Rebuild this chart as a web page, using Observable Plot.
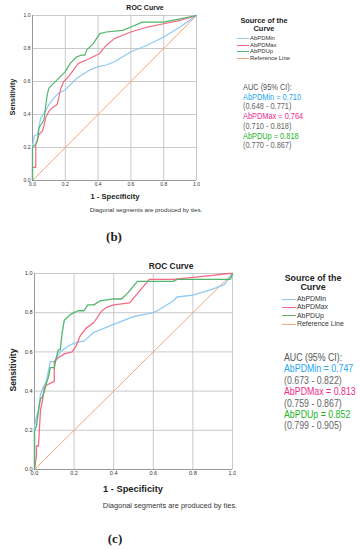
<!DOCTYPE html>
<html>
<head>
<meta charset="utf-8">
<script src="https://cdn.jsdelivr.net/npm/d3@7"></script>
<script src="https://cdn.jsdelivr.net/npm/@observablehq/plot@0.6"></script>
<style>
  html, body { margin: 0; padding: 0; background: #fff; }
  #root { position: relative; width: 360px; height: 550px; overflow: hidden; font-family: "Liberation Sans", Arial, sans-serif; color: #222; }
  .abs { position: absolute; white-space: nowrap; }
  .plot { position: absolute; }
  .bold { font-weight: bold; }
  .center { transform: translateX(-50%); text-align: center; }
  .rot { transform: translate(-50%, -50%) rotate(-90deg); }
  .leg { position: absolute; }
  .leg .row { display: flex; align-items: center; }
  .leg .sw { display: inline-block; height: 0; border-top: 1px solid; margin-right: 1px; }
  .auc { position: absolute; transform-origin: 0 0; }
  .auc div { white-space: nowrap; }
</style>
</head>
<body>
<div id="root"></div>
<script>
// ---------- data ----------
const seriesNames = ["AbPDMin", "AbPDMax", "AbPDUp", "Reference Line"];
const seriesColors = ["#8ec9f3", "#f46a86", "#52b56c", "#f7a47c"];
const tickValues = [0, 0.2, 0.4, 0.6, 0.8, 1.0];
const refFpr = [0, 1];
const refTpr = [0, 1];

// panel (b)
const bMinFpr = [0,0,0.01,0.03,0.04,0.05,0.08,0.1,0.13,0.16,0.2,0.22,0.25,0.27,0.3,0.35,0.4,0.45,0.5,0.55,0.6,0.7,0.8,0.9,1];
const bMinTpr = [0,0.2,0.27,0.28,0.33,0.38,0.42,0.46,0.5,0.53,0.55,0.57,0.6,0.62,0.64,0.67,0.69,0.7,0.72,0.75,0.78,0.82,0.87,0.93,1];
const bMaxFpr = [0,0,0.02,0.02,0.03,0.04,0.06,0.07,0.08,0.1,0.12,0.15,0.16,0.17,0.19,0.22,0.25,0.28,0.33,0.37,0.41,0.45,0.5,0.55,0.6,0.7,0.8,0.9,1];
const bMaxTpr = [0,0.08,0.08,0.22,0.25,0.28,0.3,0.33,0.38,0.42,0.44,0.46,0.5,0.55,0.6,0.63,0.67,0.71,0.73,0.75,0.77,0.82,0.86,0.88,0.9,0.93,0.95,0.97,1];
const bUpFpr = [0,0,0.02,0.03,0.04,0.06,0.07,0.08,0.09,0.1,0.12,0.16,0.2,0.23,0.27,0.3,0.32,0.33,0.37,0.41,0.45,0.55,0.6,0.67,0.8,0.9,1];
const bUpTpr = [0,0.2,0.22,0.24,0.32,0.35,0.37,0.45,0.52,0.56,0.58,0.62,0.66,0.71,0.75,0.76,0.76,0.79,0.83,0.89,0.9,0.91,0.93,0.96,0.96,0.98,1];
const bAuc = ["AbPDMin = 0.710", "(0.648 - 0.771)", "AbPDMax = 0.764", "(0.710 - 0.818)", "AbPDUp = 0.818", "(0.770 - 0.867)"];

// panel (c)
const cMinFpr = [0,0,0.01,0.02,0.03,0.04,0.06,0.07,0.08,0.1,0.13,0.17,0.2,0.22,0.25,0.3,0.4,0.5,0.6,0.62,0.7,0.72,0.8,0.9,0.96,1];
const cMinTpr = [0,0.22,0.27,0.3,0.38,0.41,0.45,0.5,0.55,0.55,0.6,0.63,0.645,0.65,0.655,0.7,0.74,0.78,0.8,0.81,0.86,0.88,0.89,0.92,0.945,1];
const cMaxFpr = [0,0.01,0.01,0.02,0.03,0.04,0.05,0.06,0.1,0.1,0.12,0.15,0.19,0.21,0.23,0.26,0.3,0.34,0.37,0.4,0.48,0.58,0.7,0.9,0.98,1];
const cMaxTpr = [0,0.07,0.12,0.12,0.3,0.35,0.42,0.43,0.45,0.55,0.57,0.59,0.6,0.63,0.68,0.72,0.75,0.81,0.83,0.84,0.85,0.97,0.97,0.99,1,1];
const cUpFpr = [0,0,0.01,0.02,0.03,0.04,0.05,0.06,0.07,0.08,0.1,0.11,0.12,0.13,0.14,0.15,0.17,0.18,0.2,0.22,0.25,0.27,0.3,0.33,0.4,0.44,0.47,0.52,0.7,0.72,0.99,1];
const cUpTpr = [0,0.2,0.22,0.3,0.36,0.37,0.4,0.44,0.47,0.52,0.52,0.57,0.61,0.61,0.7,0.76,0.78,0.79,0.8,0.81,0.81,0.84,0.84,0.86,0.87,0.87,0.9,0.96,0.96,0.97,0.97,1];
const cAuc = ["AbPDMin = 0.747", "(0.673 - 0.822)", "AbPDMax = 0.813", "(0.759 - 0.867)", "AbPDUp = 0.852", "(0.799 - 0.905)"];

const aucColors = ["#22a6f2", "#666", "#ee2a8c", "#666", "#22b41e", "#666"];

// ---------- helpers ----------
function rows(name, xs, ys) { return xs.map((x, i) => ({series: name, fpr: x, tpr: ys[i]})); }

function makePlot(cfg) {
  const data = [
    ...rows("AbPDMin", cfg.min[0], cfg.min[1]),
    ...rows("AbPDMax", cfg.max[0], cfg.max[1]),
    ...rows("AbPDUp", cfg.up[0], cfg.up[1])
  ];
  const ref = rows("Reference Line", refFpr, refTpr);
  const fmt = d3.format(".1f");
  return Plot.plot({
    width: cfg.width, height: cfg.height,
    marginLeft: cfg.ml, marginRight: cfg.mr, marginTop: cfg.mt, marginBottom: cfg.mb,
    style: {fontFamily: "Liberation Sans, Arial, sans-serif", fontSize: cfg.tickFont + "px", color: "#333", background: "#fff"},
    x: {domain: [0, 1], ticks: tickValues, tickFormat: fmt, tickSize: 0, tickPadding: 2, label: null},
    y: {domain: [0, 1], ticks: tickValues, tickFormat: fmt, tickSize: 0, tickPadding: 2, label: null},
    color: {domain: seriesNames, range: seriesColors},
    marks: [
      Plot.gridX(tickValues, {stroke: "#c9c9c9", strokeOpacity: 1, strokeWidth: 1}),
      Plot.gridY(tickValues, {stroke: "#c9c9c9", strokeOpacity: 1, strokeWidth: 1}),
      Plot.ruleX([0], {stroke: "#9a9a9a"}),
      Plot.ruleY([0], {stroke: "#9a9a9a"}),
      Plot.line(ref, {x: "fpr", y: "tpr", stroke: "series", strokeWidth: 1}),
      Plot.line(data, {x: "fpr", y: "tpr", stroke: "series", z: "series", strokeWidth: cfg.lw, curve: "linear"})
    ]
  });
}

function addText(root, txt, style, cls) {
  const d = document.createElement("div");
  d.className = "abs " + (cls || "");
  d.textContent = txt;
  Object.assign(d.style, style);
  root.appendChild(d);
  return d;
}

function addLegend(root, cfg) {
  const t = document.createElement("div");
  t.className = "abs bold center";
  Object.assign(t.style, {left: cfg.titleX + "px", top: cfg.titleY + "px", fontSize: cfg.titleFont + "px", lineHeight: cfg.titleLH + "px", color: "#222"});
  t.innerHTML = "Source of the<br>Curve";
  root.appendChild(t);
  const leg = document.createElement("div");
  leg.className = "leg";
  Object.assign(leg.style, {left: cfg.x + "px", top: cfg.y + "px", fontSize: cfg.font + "px", lineHeight: cfg.lh + "px", color: "#333"});
  seriesNames.forEach((s, i) => {
    const r = document.createElement("div");
    r.className = "row";
    r.style.height = cfg.lh + "px";
    const sw = document.createElement("span");
    sw.className = "sw";
    sw.style.width = cfg.sw + "px";
    sw.style.borderTopColor = seriesColors[i];
    const tx = document.createElement("span");
    tx.textContent = s;
    r.appendChild(sw); r.appendChild(tx);
    leg.appendChild(r);
  });
  root.appendChild(leg);
}

function addAuc(root, cfg, lines) {
  const a = document.createElement("div");
  a.className = "auc";
  Object.assign(a.style, {left: cfg.x + "px", top: cfg.y + "px", fontSize: cfg.font + "px", lineHeight: cfg.lh + "px", transform: "scaleX(" + cfg.sx + ")"});
  const h = document.createElement("div");
  h.textContent = "AUC (95% CI):";
  h.style.color = "#555";
  a.appendChild(h);
  lines.forEach((l, i) => {
    const d = document.createElement("div");
    d.textContent = l;
    d.style.color = aucColors[i];
    a.appendChild(d);
  });
  root.appendChild(a);
}

// ---------- build ----------
const root = document.getElementById("root");

// panel (b)
const pb = makePlot({width: 200, height: 200, ml: 32, mr: 4, mt: 15, mb: 20, tickFont: 5, lw: 1.2,
  min: [bMinFpr, bMinTpr], max: [bMaxFpr, bMaxTpr], up: [bUpFpr, bUpTpr]});
pb.classList.add("plot");
pb.style.left = "0px"; pb.style.top = "0px";
root.appendChild(pb);
addText(root, "ROC Curve", {left: "145px", top: "4px", fontSize: "7px", color: "#222"}, "bold center");
addText(root, "Sensitivity", {left: "12px", top: "97px", fontSize: "7.4px", color: "#222"}, "bold rot");
addText(root, "1 - Specificity", {left: "115px", top: "192px", fontSize: "7.6px", color: "#222"}, "bold center");
addText(root, "Diagonal segments are produced by ties.", {left: "146px", top: "206px", fontSize: "6.2px", color: "#333"}, "center");
addText(root, "(b)", {left: "114px", top: "229px", fontSize: "13px", fontFamily: "Liberation Serif, serif", color: "#222"}, "bold center");
addLegend(root, {titleX: 264, titleY: 17, titleFont: 7.4, titleLH: 7.5, x: 237, y: 35, font: 5.9, lh: 6.7, sw: 12});
addAuc(root, {x: 243, y: 83, font: 9, lh: 9.7, sx: 0.82}, bAuc);

// panel (c)
const pc = makePlot({width: 236, height: 225, ml: 34, mr: 4, mt: 15, mb: 14, tickFont: 5.6, lw: 1.3,
  min: [cMinFpr, cMinTpr], max: [cMaxFpr, cMaxTpr], up: [cUpFpr, cUpTpr]});
pc.classList.add("plot");
pc.style.left = "0px"; pc.style.top = "258px";
root.appendChild(pc);
addText(root, "ROC Curve", {left: "171px", top: "261px", fontSize: "8.4px", color: "#222"}, "bold center");
addText(root, "Sensitivity", {left: "13px", top: "370px", fontSize: "8.6px", color: "#222"}, "bold rot");
addText(root, "1 - Specificity", {left: "133px", top: "484px", fontSize: "9.3px", color: "#222"}, "bold center");
addText(root, "Diagonal segments are produced by ties.", {left: "170px", top: "501px", fontSize: "7.4px", color: "#333"}, "center");
addText(root, "(c)", {left: "115px", top: "531px", fontSize: "13px", fontFamily: "Liberation Serif, serif", color: "#222"}, "bold center");
addLegend(root, {titleX: 313, titleY: 274, titleFont: 8.9, titleLH: 8.5, x: 282, y: 295, font: 6.9, lh: 8.3, sw: 14});
addAuc(root, {x: 284, y: 352, font: 10, lh: 11.4, sx: 0.88}, cAuc);
</script>
</body>
</html>
